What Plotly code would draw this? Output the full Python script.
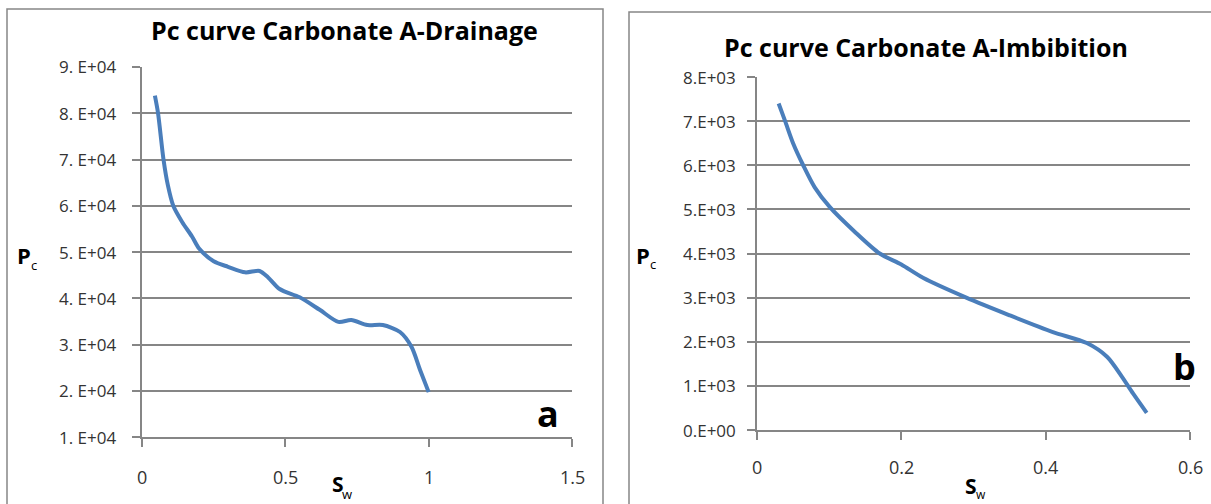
import plotly.graph_objects as go

W, H = 1211, 504

# Drainage (panel a)
sw_drain = [0.045, 0.056, 0.075, 0.09, 0.109, 0.14, 0.175, 0.2, 0.25, 0.3, 0.36, 0.41, 0.44, 0.48,
            0.55, 0.62, 0.685, 0.73, 0.786, 0.84, 0.9, 0.94, 0.97, 1.0]
pc_drain = [83800, 80000, 70000, 64500, 60000, 56500, 53300, 50700, 48000, 46800, 45600, 45900, 44500, 42000,
            40200, 37500, 34900, 35300, 34200, 34200, 32700, 29500, 24500, 19700]

# Imbibition (panel b)
sw_imb = [0.030, 0.039, 0.05, 0.064, 0.08, 0.101, 0.135, 0.17, 0.2, 0.23, 0.29, 0.35, 0.41,
          0.457, 0.485, 0.506, 0.521, 0.54]
pc_imb = [7400, 7000, 6500, 6000, 5500, 5050, 4500, 4000, 3750, 3450, 3000, 2600, 2220,
          1970, 1660, 1200, 830, 390]

y_drain_ticks = [10000, 20000, 30000, 40000, 50000, 60000, 70000, 80000, 90000]
y_drain_text = ["1. E+04", "2. E+04", "3. E+04", "4. E+04", "5. E+04", "6. E+04", "7. E+04", "8. E+04", "9. E+04"]
x_drain_ticks = [0, 0.5, 1, 1.5]
x_drain_text = ["0", "0.5", "1", "1.5"]

y_imb_ticks = [0, 1000, 2000, 3000, 4000, 5000, 6000, 7000, 8000]
y_imb_text = ["0.E+00", "1.E+03", "2.E+03", "3.E+03", "4.E+03", "5.E+03", "6.E+03", "7.E+03", "8.E+03"]
x_imb_ticks = [0, 0.2, 0.4, 0.6]
x_imb_text = ["0", "0.2", "0.4", "0.6"]

FONT = "Open Sans"
GRID = "#868686"
LINE = "#4a7ebb"
TXT = "#333333"

def px(x):
    return x / W

def py(y):
    return 1 - y / H

fig = go.Figure()
fig.add_trace(go.Scatter(x=sw_drain, y=pc_drain, mode="lines", line=dict(color=LINE, width=4, shape="spline", smoothing=0.8),
                         xaxis="x", yaxis="y", showlegend=False))
fig.add_trace(go.Scatter(x=sw_imb, y=pc_imb, mode="lines", line=dict(color=LINE, width=4, shape="spline", smoothing=0.8),
                         xaxis="x2", yaxis="y2", showlegend=False))

axis_common = dict(showline=True, linecolor=GRID, linewidth=1.5, ticks="outside", tickcolor=GRID,
                   ticklen=8, tickwidth=1.5, zeroline=False, showticklabels=False)

fig.update_layout(
    width=W, height=H, margin=dict(l=0, r=0, t=0, b=0),
    paper_bgcolor="white", plot_bgcolor="white",
    xaxis=dict(domain=[px(142), px(572)], range=[0, 1.5], tickvals=x_drain_ticks,
               showgrid=False, anchor="y", **axis_common),
    yaxis=dict(domain=[py(437), py(67)], range=[10000, 90000], tickvals=y_drain_ticks,
               showgrid=True, gridcolor=GRID, gridwidth=1.5, anchor="x", **axis_common),
    xaxis2=dict(domain=[px(757), px(1190)], range=[0, 0.6], tickvals=x_imb_ticks,
                showgrid=False, anchor="y2", **axis_common),
    yaxis2=dict(domain=[py(430), py(77)], range=[0, 8000], tickvals=y_imb_ticks,
                showgrid=True, gridcolor=GRID, gridwidth=1.5, anchor="x2", **axis_common),
)

# tick labels placed through the axes' own scales
for v, t in zip(y_drain_ticks, y_drain_text):
    fig.add_annotation(x=px(118), xref="paper", y=v, yref="y", text=t, showarrow=False,
                       xanchor="right", yanchor="middle", font=dict(family=FONT, size=17, color=TXT))
for v, t in zip(y_imb_ticks, y_imb_text):
    fig.add_annotation(x=px(738), xref="paper", y=v, yref="y2", text=t, showarrow=False,
                       xanchor="right", yanchor="middle", font=dict(family=FONT, size=17, color=TXT))
for v, t in zip(x_drain_ticks, x_drain_text):
    fig.add_annotation(x=v, xref="x", y=py(477), yref="paper", text=t, showarrow=False,
                       xanchor="center", yanchor="middle", font=dict(family=FONT, size=18, color=TXT))
for v, t in zip(x_imb_ticks, x_imb_text):
    fig.add_annotation(x=v, xref="x2", y=py(467), yref="paper", text=t, showarrow=False,
                       xanchor="center", yanchor="middle", font=dict(family=FONT, size=18, color=TXT))

fig.add_shape(type="rect", xref="paper", yref="paper", x0=px(7), x1=px(603), y0=-0.1, y1=py(9),
              line=dict(color=GRID, width=1.5), layer="below")
fig.add_shape(type="rect", xref="paper", yref="paper", x0=px(629), x1=1.1, y0=-0.1, y1=py(12),
              line=dict(color=GRID, width=1.5), layer="below")

ann = [
    dict(x=344, y=30, text="Pc curve Carbonate A-Drainage", size=25, w="bold"),
    dict(x=926, y=47, text="Pc curve Carbonate A-Imbibition", size=25, w="bold"),
    dict(x=24, y=255, text="P", size=22, w="bold"),
    dict(x=34, y=265, text="c", size=13, w="normal"),
    dict(x=643, y=255, text="P", size=22, w="bold"),
    dict(x=653, y=264, text="c", size=13, w="normal"),
    dict(x=338, y=484, text="S", size=21, w="bold"),
    dict(x=347, y=494, text="w", size=13, w="normal"),
    dict(x=971, y=486, text="S", size=21, w="bold"),
    dict(x=981, y=494, text="w", size=12, w="normal"),
    dict(x=548, y=413, text="a", size=36, w="bold"),
    dict(x=1184, y=366, text="b", size=36, w="bold"),
]
for a in ann:
    fig.add_annotation(x=px(a["x"]), y=py(a["y"]), xref="paper", yref="paper", text=a["text"], showarrow=False,
                       xanchor="center", yanchor="middle", borderpad=0,
                       font=dict(family=FONT, size=a["size"], color="black", weight=a["w"]))

fig.write_html("out.html")
